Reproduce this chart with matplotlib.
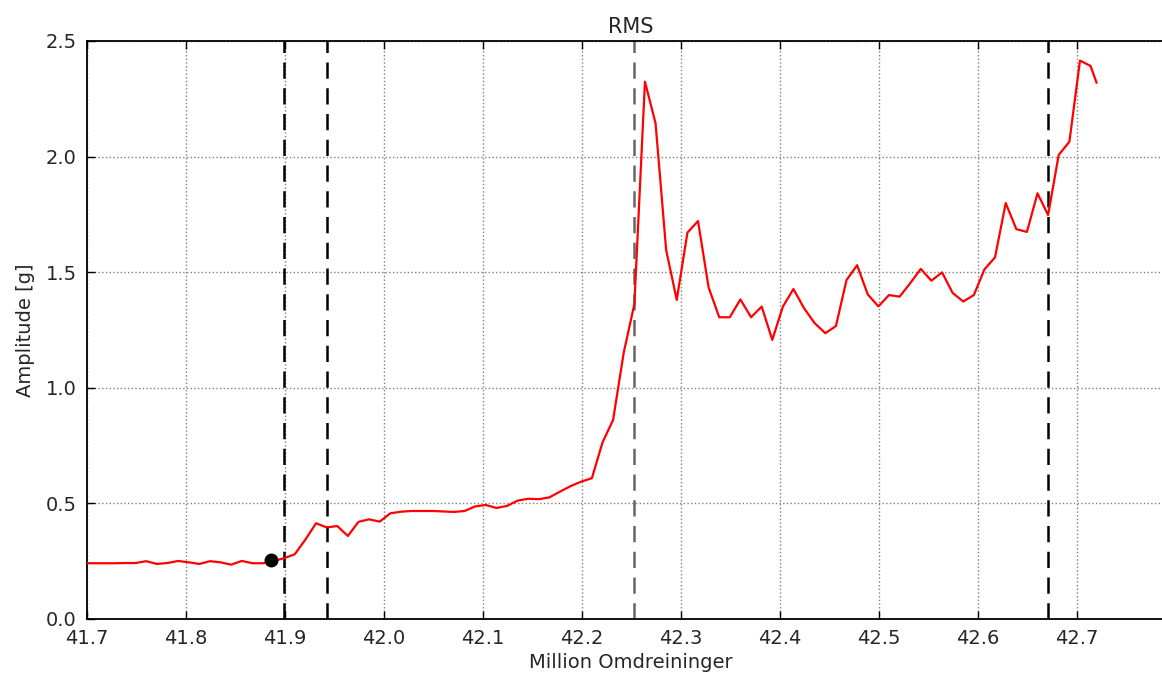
import numpy as np
import matplotlib
matplotlib.use('Agg')
import matplotlib.pyplot as plt

# omdreininger (millioner) og RMS-amplitude [g]
x = [41.6959, 41.7066, 41.7173, 41.7281, 41.7388, 41.7495, 41.7602, 41.7709,
     41.7816, 41.7924, 41.8031, 41.8138, 41.8245, 41.8352, 41.8459, 41.8567,
     41.8674, 41.8781, 41.8888, 41.8995, 41.9102, 41.9210, 41.9317, 41.9424,
     41.9531, 41.9638, 41.9745, 41.9853, 41.9960, 42.0067, 42.0174, 42.0281,
     42.0388, 42.0496, 42.0603, 42.0710, 42.0817, 42.0924, 42.1031, 42.1139,
     42.1246, 42.1353, 42.1460, 42.1567, 42.1674, 42.1782, 42.1889, 42.1996,
     42.2103, 42.2210, 42.2317, 42.2425, 42.2532, 42.2639, 42.2746, 42.2853,
     42.2960, 42.3068, 42.3175, 42.3282, 42.3389, 42.3496, 42.3603, 42.3711,
     42.3818, 42.3925, 42.4032, 42.4139, 42.4246, 42.4354, 42.4461, 42.4568,
     42.4675, 42.4782, 42.4889, 42.4997, 42.5104, 42.5211, 42.5318, 42.5425,
     42.5532, 42.5640, 42.5747, 42.5854, 42.5961, 42.6068, 42.6175, 42.6283,
     42.6390, 42.6497, 42.6604, 42.6711, 42.6818, 42.6926, 42.7033, 42.7140,
     42.7200]
rms = [0.241, 0.241, 0.241, 0.241, 0.242, 0.242, 0.250, 0.238,
       0.242, 0.251, 0.245, 0.238, 0.250, 0.245, 0.235, 0.251,
       0.241, 0.241, 0.251, 0.263, 0.280, 0.344, 0.414, 0.396,
       0.402, 0.359, 0.420, 0.431, 0.421, 0.457, 0.464, 0.467,
       0.467, 0.467, 0.465, 0.463, 0.467, 0.487, 0.493, 0.480,
       0.489, 0.512, 0.520, 0.518, 0.526, 0.551, 0.575, 0.594,
       0.609, 0.763, 0.861, 1.153, 1.362, 2.324, 2.144, 1.596,
       1.380, 1.671, 1.721, 1.434, 1.305, 1.305, 1.382, 1.305,
       1.351, 1.207, 1.351, 1.427, 1.344, 1.279, 1.236, 1.267,
       1.466, 1.530, 1.404, 1.352, 1.401, 1.394, 1.452, 1.514,
       1.463, 1.499, 1.410, 1.373, 1.401, 1.512, 1.564, 1.799,
       1.686, 1.674, 1.841, 1.747, 2.007, 2.064, 2.415, 2.392,
       2.320]

# markeringer
vlinjer = [41.8995, 41.9424, 42.2532, 42.6711]
vfarger = ['k', 'k', '0.4', 'k']
punkt_x = [41.886]
punkt_y = [0.255]

xticks = [41.7, 41.8, 41.9, 42.0, 42.1, 42.2, 42.3, 42.4, 42.5, 42.6, 42.7]
yticks = [0.0, 0.5, 1.0, 1.5, 2.0, 2.5]

fig = plt.figure(figsize=(11.62, 6.79), dpi=100)
ax = fig.add_axes([0.0746, 0.0884, 0.9372, 0.8513])

ax.plot(x, rms, color='red', lw=1.6, zorder=3)
for v, c in zip(vlinjer, vfarger):
    ax.axvline(v, color=c, lw=1.8, dashes=(6.5, 3.8), zorder=2)
ax.plot(punkt_x, punkt_y, 'o', color='k', ms=9, zorder=4)

ax.set_xlim(41.7, 42.8)
ax.set_ylim(0, 2.5)
ax.set_xticks(xticks)
ax.set_xticklabels(['%.1f' % t for t in xticks])
ax.set_yticks(yticks)
ax.set_yticklabels(['%.1f' % t for t in yticks])
ax.grid(True, color='0.5', linestyle=':', lw=1)
ax.tick_params(direction='in', top=True, right=True, length=6, width=1,
               labelsize=14, pad=7, labelcolor='0.15')
for s in ax.spines.values():
    s.set_linewidth(1.3)

ax.set_title('RMS', fontsize=15, color='0.15')
ax.set_xlabel('Million Omdreininger', fontsize=14, color='0.15')
ax.set_ylabel('Amplitude [g]', fontsize=14, color='0.15', labelpad=8)

fig.savefig('out.png', dpi=100)
